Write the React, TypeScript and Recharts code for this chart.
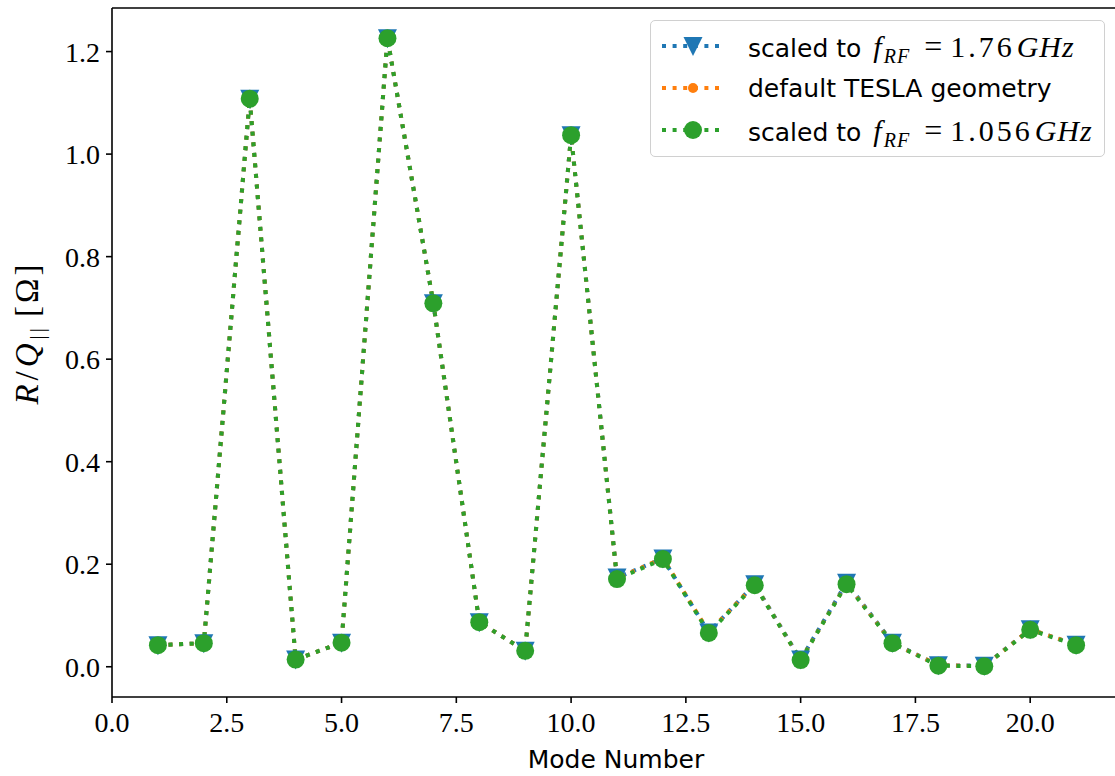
import { LineChart, Line, XAxis, YAxis, ReferenceLine, Legend } from 'recharts'

const modes = [1, 2, 3, 4, 5, 6, 7, 8, 9, 10, 11, 12, 13, 14, 15, 16, 17, 18, 19, 20, 21]
const scaled176 = [0.042, 0.046, 1.108, 0.014, 0.047, 1.226, 0.709, 0.087, 0.031, 1.037, 0.174, 0.211, 0.067, 0.161, 0.014, 0.164, 0.047, 0.003, 0.002, 0.073, 0.043]
const tesla = [0.042, 0.046, 1.108, 0.014, 0.047, 1.226, 0.709, 0.087, 0.031, 1.037, 0.172, 0.212, 0.068, 0.160, 0.013, 0.162, 0.046, 0.003, 0.001, 0.073, 0.043]
const scaled1056 = [0.042, 0.046, 1.108, 0.014, 0.047, 1.226, 0.709, 0.087, 0.031, 1.037, 0.171, 0.210, 0.066, 0.159, 0.013, 0.161, 0.046, 0.002, 0.001, 0.072, 0.042]
const xTicks = [0, 2.5, 5, 7.5, 10, 12.5, 15, 17.5, 20]
const yTicks = [0, 0.2, 0.4, 0.6, 0.8, 1.0, 1.2]

const BLUE = '#1f77b4'
const ORANGE = '#ff7f0e'
const GREEN = '#2ca02c'
const SERIF = '"Liberation Serif", "DejaVu Serif", serif'
const SANS = '"DejaVu Sans", sans-serif'
const DASH = '4 6.6'
const Y_MIN = -0.059
const Y_MAX = 1.285

const rows = modes.map((m, i) => ({ mode: m, s176: scaled176[i], tesla: tesla[i], s1056: scaled1056[i] }))

function Tri({ cx, cy, color }: { cx: number; cy: number; color: string }) {
  return <path d={`M${cx - 9.5},${cy - 9} L${cx + 9.5},${cy - 9} L${cx},${cy + 10} Z`} fill={color} />
}

const triDot = (p: any) => <Tri key={`t${p.index}`} cx={p.cx} cy={p.cy} color={BLUE} />
const smallDot = (p: any) => <circle key={`o${p.index}`} cx={p.cx} cy={p.cy} r={4.5} fill={ORANGE} />
const bigDot = (p: any) => <circle key={`g${p.index}`} cx={p.cx} cy={p.cy} r={9} fill={GREEN} />

function Icon({ color, kind }: { color: string; kind: string }) {
  return (
    <svg width={62} height={30} style={{ display: 'block' }}>
      <line x1={0} y1={15} x2={62} y2={15} stroke={color} strokeWidth={4} strokeDasharray={DASH} />
      {kind === 'tri' && <Tri cx={31} cy={15} color={color} />}
      {kind === 'small' && <circle cx={31} cy={15} r={5} fill={color} />}
      {kind === 'big' && <circle cx={31} cy={15} r={9} fill={color} />}
    </svg>
  )
}

const it = { fontFamily: SERIF, fontStyle: 'italic' as const }
const rm = { fontFamily: SERIF }

function FreqLabel({ value }: { value: string }) {
  return (
    <span style={{ fontFamily: SANS, fontSize: 25 }}>
      scaled to
      <span style={{ ...it, fontSize: 30, marginLeft: 12 }}>f</span>
      <span style={{ ...it, fontSize: 20, position: 'relative', top: 6, letterSpacing: 1, marginLeft: 2 }}>RF</span>
      <span style={{ ...rm, fontSize: 32, marginLeft: 14 }}>=</span>
      <span style={{ ...rm, fontSize: 30, marginLeft: 8, letterSpacing: 3 }}>{value}</span>
      <span style={{ ...it, fontSize: 30, marginLeft: 2, letterSpacing: 1 }}>GHz</span>
    </span>
  )
}

function LegendBox() {
  const items = [
    { color: BLUE, kind: 'tri', label: <FreqLabel value="1.76" /> },
    { color: ORANGE, kind: 'small', label: <span style={{ fontFamily: SANS, fontSize: 25 }}>default TESLA geometry</span> },
    { color: GREEN, kind: 'big', label: <FreqLabel value="1.056" /> },
  ]
  return (
    <div style={{ width: 455, height: 137, boxSizing: 'border-box', border: '1.5px solid #d0d0d0', borderRadius: 5, background: 'rgba(255,255,255,0.85)', paddingTop: 4 }}>
      {items.map((d, i) => (
        <div key={i} style={{ display: 'flex', alignItems: 'center', height: 42, whiteSpace: 'nowrap' }}>
          <div style={{ marginLeft: 11, width: 62 }}><Icon color={d.color} kind={d.kind} /></div>
          <div style={{ marginLeft: 24, lineHeight: 1 }}>{d.label}</div>
        </div>
      ))}
    </div>
  )
}

export default function App() {
  return (
    <div style={{ position: 'absolute', left: 0, top: 0, width: 1115, height: 776, overflow: 'hidden', background: '#fff' }}>
      <LineChart width={1130} height={776} data={rows} margin={{ top: 8, right: 8, bottom: 0, left: 0 }}>
        <XAxis
          dataKey="mode"
          type="number"
          domain={[0, 22]}
          ticks={xTicks}
          allowDataOverflow
          height={79}
          tickFormatter={(v: number) => v.toFixed(1)}
          tick={{ fill: '#000', fontFamily: SERIF, fontSize: 28 }}
          tickLine={{ stroke: '#000', strokeWidth: 1.6 }}
          axisLine={{ stroke: '#000', strokeWidth: 1.6 }}
          tickSize={6}
          tickMargin={9}
          label={{
            content: () => (
              <text x={616} y={768} textAnchor="middle" fontFamily={SANS} fontSize={25} fill="#000">Mode Number</text>
            ),
          }}
        />
        <YAxis
          type="number"
          domain={[Y_MIN, Y_MAX]}
          ticks={yTicks}
          allowDataOverflow
          width={112}
          tickFormatter={(v: number) => v.toFixed(1)}
          tick={{ fill: '#000', fontFamily: SERIF, fontSize: 28 }}
          tickLine={{ stroke: '#000', strokeWidth: 1.6 }}
          axisLine={{ stroke: '#000', strokeWidth: 1.6 }}
          tickSize={6}
          tickMargin={6}
          label={{
            content: () => (
              <text transform="translate(38,333) rotate(-90)" textAnchor="middle" fontFamily={SERIF} fontSize={33} fill="#000" letterSpacing={3}>
                <tspan fontStyle="italic">R</tspan>
                <tspan dx={1}>/</tspan>
                <tspan dx={1} fontStyle="italic">Q</tspan>
                <tspan fontSize={21} dy={6} dx={1}>||</tspan>
                <tspan dy={-6} dx={8}>[Ω]</tspan>
              </text>
            ),
          }}
        />
        <ReferenceLine y={Y_MAX} stroke="#000" strokeWidth={1.6} />
        <ReferenceLine x={22} stroke="#000" strokeWidth={1.6} />
        <Line type="linear" dataKey="s176" stroke={BLUE} strokeWidth={4} strokeDasharray={DASH} dot={triDot} activeDot={false} isAnimationActive={false} />
        <Line type="linear" dataKey="tesla" stroke={ORANGE} strokeWidth={4} strokeDasharray={DASH} dot={smallDot} activeDot={false} isAnimationActive={false} />
        <Line type="linear" dataKey="s1056" stroke={GREEN} strokeWidth={4} strokeDasharray={DASH} dot={bigDot} activeDot={false} isAnimationActive={false} />
        <Legend
          layout="vertical"
          align="center"
          verticalAlign="middle"
          content={() => <LegendBox />}
          wrapperStyle={{ position: 'absolute', left: 650, top: 20, width: 455, height: 137 }}
        />
      </LineChart>
    </div>
  )
}
